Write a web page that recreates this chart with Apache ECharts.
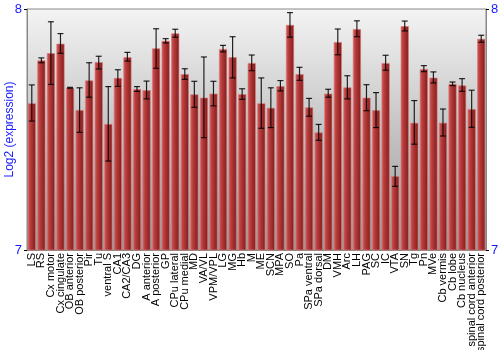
<!DOCTYPE html>
<html><head><meta charset="utf-8">
<script src="https://cdn.jsdelivr.net/npm/echarts@6/dist/echarts.min.js"></script>
<style>html,body{margin:0;padding:0;background:#fff}#c{width:500px;height:350px}</style>
</head><body><div id="c"></div>
<script>
var categories = ["LS","RS","Cx motor","Cx cingulate","OB anterior","OB posterior","Pir","Tu","ventral S","CA1","CA2/CA3","DG","A anterior","A posterior","GP","CPu lateral","CPu medial","MD","VA/VL","VPM/VPL","LG","MG","Hb","M","ME","SCN","MPA","SO","Pa","SPa ventral","SPa dorsal","DM","VMH","Arc","LH","PAG","SC","IC","VTA","SN","Tg","Pn","MVe","Cb vermis","Cb lobe","Cb nucleus","spinal cord anterior","spinal cord posterior"];
var values = [7.609,7.787,7.817,7.856,7.673,7.581,7.704,7.780,7.523,7.714,7.800,7.668,7.663,7.837,7.868,7.899,7.730,7.646,7.632,7.649,7.834,7.800,7.647,7.776,7.609,7.590,7.680,7.934,7.730,7.592,7.488,7.649,7.863,7.675,7.917,7.632,7.580,7.776,7.307,7.929,7.528,7.751,7.715,7.528,7.689,7.683,7.585,7.876];
var errLow = [7.535,7.777,7.687,7.816,7.671,7.488,7.634,7.751,7.369,7.679,7.784,7.658,7.627,7.754,7.859,7.883,7.708,7.592,7.466,7.598,7.822,7.714,7.625,7.744,7.505,7.508,7.660,7.883,7.704,7.555,7.455,7.634,7.810,7.627,7.885,7.578,7.508,7.746,7.264,7.909,7.439,7.740,7.693,7.473,7.682,7.658,7.509,7.862];
var errHigh = [7.685,7.797,7.947,7.898,7.675,7.673,7.777,7.804,7.678,7.748,7.820,7.678,7.701,7.918,7.877,7.916,7.752,7.700,7.801,7.700,7.849,7.885,7.669,7.809,7.714,7.673,7.703,7.985,7.758,7.629,7.521,7.667,7.917,7.723,7.951,7.686,7.653,7.808,7.347,7.950,7.620,7.765,7.739,7.585,7.697,7.711,7.663,7.891];
var yTicks = [7, 8];

var errData = categories.map(function(c, i){ return [i, errLow[i], errHigh[i]]; });
var chart = echarts.init(document.getElementById('c'), null, {renderer:'canvas'});
var blue = '#1a1aff';
var font = 'Liberation Sans, Arial, sans-serif';
chart.setOption({
  animation:false,
  grid:{left:27, right:14, top:9, bottom:100, containLabel:false, outerBoundsMode:'none', show:true, borderColor:'#888', borderWidth:1,
    backgroundColor:new echarts.graphic.LinearGradient(0,0,0,1,[{offset:0,color:'#f4f4f4'},{offset:0.5,color:'#c4c4c4'},{offset:1,color:'#999'}])},
  xAxis:{type:'category', data:categories,
    axisLine:{show:true, lineStyle:{color:'#888'}}, axisTick:{show:false},
    axisLabel:{rotate:90, interval:0, fontFamily:font, fontSize:11, color:'#000', margin:3}},
  yAxis:[{type:'value', min:yTicks[0], max:yTicks[1], interval:1, splitLine:{show:false},
    name:'Log2 (expression)', nameLocation:'middle', nameGap:11, nameMoveOverlap:false, nameTextStyle:{color:blue, fontSize:12, fontFamily:font},
    axisLine:{show:true, lineStyle:{color:'#888'}}, axisTick:{show:true, length:3, lineStyle:{color:'#000'}},
    axisLabel:{color:blue, fontSize:13, fontFamily:font, margin:5}},
   {type:'value', min:yTicks[0], max:yTicks[1], interval:1, position:'right', splitLine:{show:false},
    axisLine:{show:true, lineStyle:{color:'#888'}}, axisTick:{show:true, length:3, lineStyle:{color:'#000'}},
    axisLabel:{color:blue, fontSize:13, fontFamily:font, margin:5}}],
  series:[{type:'bar', data:values, barCategoryGap:'14%',
    itemStyle:{color:new echarts.graphic.LinearGradient(0,0,1,0,[{offset:0,color:'#d06060'},{offset:0.35,color:'#b83a3a'},{offset:1,color:'#7e1c1c'}]),
      borderColor:'rgba(220,120,120,0.8)', borderWidth:0.8}},
   {type:'custom', data:errData, z:10,
    renderItem:function(params, api){
      var x = api.value(0), lo = api.coord([x, api.value(1)]), hi = api.coord([x, api.value(2)]);
      var w = 3;
      var st = {stroke:'rgba(0,0,0,0.85)', lineWidth:1.2};
      return {type:'group', children:[
        {type:'line', shape:{x1:lo[0], y1:lo[1], x2:hi[0], y2:hi[1]}, style:st},
        {type:'line', shape:{x1:lo[0]-w, y1:lo[1], x2:lo[0]+w, y2:lo[1]}, style:st},
        {type:'line', shape:{x1:hi[0]-w, y1:hi[1], x2:hi[0]+w, y2:hi[1]}, style:st}
      ]};
    }}]
});
</script></body></html>
